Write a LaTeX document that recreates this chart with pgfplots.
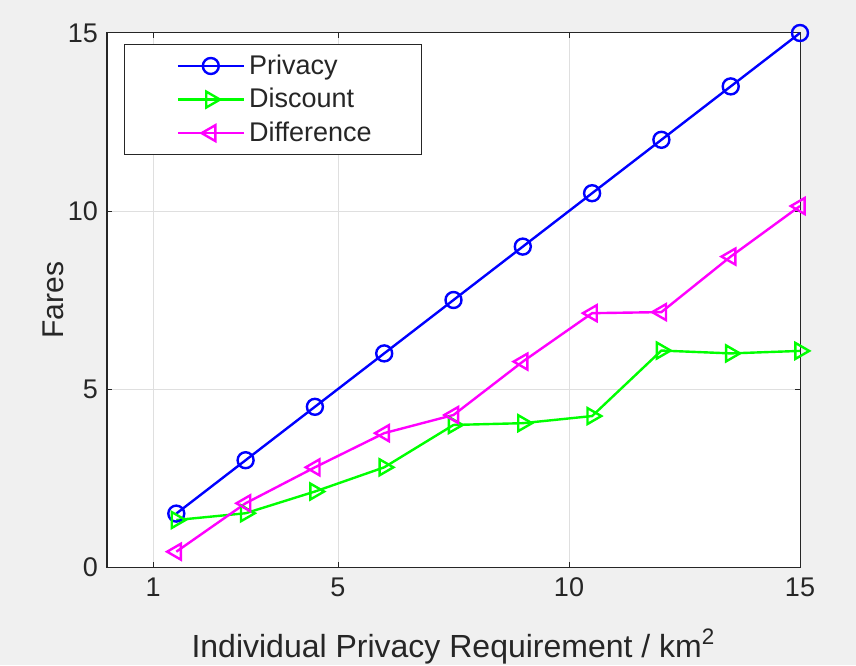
\documentclass[border=0pt]{standalone}
\usepackage{pgfplots}
\pgfplotsset{compat=1.18}
\usepackage{fontspec}
\setmainfont{Liberation Sans}

\definecolor{figbg}{RGB}{240,240,240}
\definecolor{axcol}{RGB}{38,38,38}
\definecolor{gridcol}{RGB}{223,223,223}

\begin{document}
\begin{tikzpicture}
% figure background
\fill[figbg] (-53.5pt,-49pt) rectangle (374.5pt,283.5pt);
\useasboundingbox (-53.5pt,-49pt) rectangle (374.5pt,283.5pt);
\begin{axis}[
  scale only axis,
  width=346.5pt, height=267pt,
  at={(0pt,0pt)}, anchor=south west,
  xmin=0, xmax=15, ymin=0, ymax=15,
  xtick={1,5,10,15}, ytick={0,5,10,15},
  axis background/.style={fill=white},
  axis line style={axcol, line width=0.5pt},
  tick style={axcol, line width=0.5pt},
  major tick length=2.5pt,
  tick align=inside,
  grid=major,
  major grid style={gridcol, line width=0.5pt},
  ticklabel style={font=\fontsize{13.5}{15}\selectfont, text=axcol},
  /pgf/number format/assume math mode=true,
  xticklabel style={yshift=-2pt},
  yticklabel style={xshift=-1pt},
  xlabel={Individual Privacy Requirement / km\textsuperscript{2}},
  ylabel={Fares},
  xlabel style={font=\fontsize{16}{18}\selectfont, text=axcol, yshift=-9pt},
  ylabel style={font=\fontsize{15}{17}\selectfont, text=axcol, yshift=-5pt},
  legend style={at={(axis description cs:0.025,0.979)}, anchor=north west,
    draw=axcol, line width=0.5pt, fill=white,
    font=\fontsize{13.5}{15}\selectfont, text=axcol,
    row sep=1.5pt, inner ysep=3pt},
  legend cell align=left,
  legend image code/.code={%
    \path[draw=none] (0pt,0pt) -- (1pt,0pt);
    \draw[mark repeat=2,mark phase=2,#1] plot coordinates {(23.5pt,0pt) (40pt,0pt) (56.5pt,0pt)};},
]
\addplot[color={rgb,1:red,0;green,0;blue,1}, line width=1.2pt, mark=o,
  mark size=4pt, mark options={line width=1.2pt}]
  coordinates {(1.5,1.5) (3,3) (4.5,4.5) (6,6) (7.5,7.5) (9,9) (10.5,10.5) (12,12) (13.5,13.5) (15,15)};
\addlegendentry{\makebox[81pt][l]{Privacy}}
\addplot[color={rgb,1:red,0;green,1;blue,0}, line width=1.2pt, mark=triangle,
  mark size=4.6pt, mark options={rotate=-90, line width=1.2pt}]
  coordinates {(1.5,1.32) (3,1.51) (4.5,2.12) (6,2.80) (7.5,3.99) (9,4.04) (10.5,4.24) (12,6.08) (13.5,6.00) (15,6.07)};
\addlegendentry{\makebox[81pt][l]{Discount}}
\addplot[color={rgb,1:red,1;green,0;blue,1}, line width=1.2pt, mark=triangle,
  mark size=4.6pt, mark options={rotate=90, line width=1.2pt}]
  coordinates {(1.5,0.43) (3,1.79) (4.5,2.80) (6,3.76) (7.5,4.27) (9,5.77) (10.5,7.13) (12,7.16) (13.5,8.72) (15,10.14)};
\addlegendentry{\makebox[81pt][l]{Difference}}
\end{axis}
\end{tikzpicture}
\end{document}
